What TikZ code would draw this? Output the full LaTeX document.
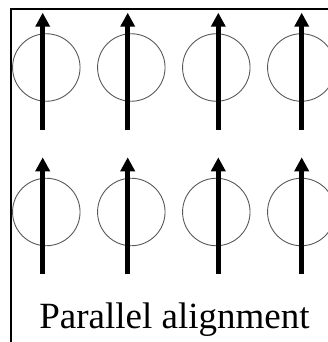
\documentclass[tikz,border=0pt]{standalone}
\usepackage{fontspec}
\setmainfont{Liberation Serif}
\usetikzlibrary{arrows.meta}
\begin{document}
\begin{tikzpicture}[x=1pt,y=-1pt,
  spin/.style={draw=black!65, line width=0.9pt, circle, minimum size=67.5pt, inner sep=0pt},
  moment/.style={line width=5pt, -{Triangle[width=14pt,length=14pt]}},
  framebar/.style={fill=black, draw=none}]
\useasboundingbox (0,0) rectangle (328,342);
\coordinate (fl) at (9.5,342);
\coordinate (fc) at (9.5,8.5);
\coordinate (fr) at (328,10.5);
\coordinate (fi) at (11.5,10.5);
\fill[framebar] (fc) rectangle (fr);
\fill[framebar] (fc) rectangle (fi |- fl);
% circles
\foreach \i/\cx in {1/46.3,2/131.3,3/216.3,4/301.3}{
  \node[spin] (a\i) at (\cx,67.5) {};
  \node[spin] (b\i) at (\cx,212) {};
}
% arrows
\foreach \i/\ax in {1/42.7,2/127.7,3/218.3,4/301.7}{
  \coordinate (as\i) at (\ax,130);
  \coordinate (at\i) at (\ax,12.7);
  \coordinate (bs\i) at (\ax,274);
  \coordinate (bt\i) at (\ax,157.3);
  \draw[moment] (as\i) -- (at\i);
  \draw[moment] (bs\i) -- (bt\i);
}
\node[anchor=base, inner sep=0pt, font=\fontsize{37}{40}\selectfont] (label) at (174.5,328) {Parallel alignment};
\end{tikzpicture}
\end{document}
